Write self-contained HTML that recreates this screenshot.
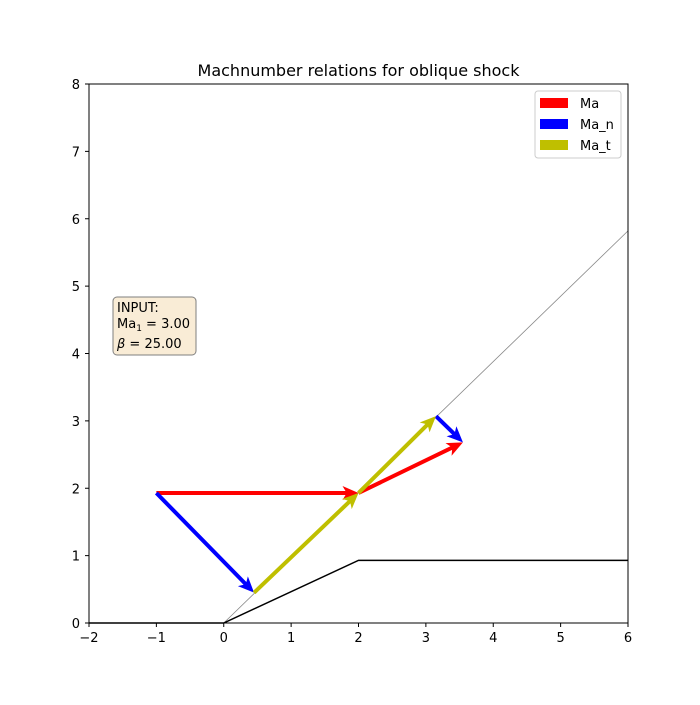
<!DOCTYPE html>
<html><head><meta charset="utf-8"><style>
body{margin:0;background:#fff;font-family:"Liberation Sans","DejaVu Sans",sans-serif}
svg text{font-family:"DejaVu Sans","Liberation Sans",sans-serif}
</style></head><body>
<svg id="c" width="700" height="700">
<rect width="700" height="700" fill="#fff"/>
<text x="358.5" y="76" font-size="16" text-anchor="middle">Machnumber relations for oblique shock</text>
<g id="plot"></g>
<rect x="89" y="84" width="539" height="539" fill="none" stroke="#000" stroke-width="1"/>
<g id="axes"></g>
<g>
<rect x="113" y="297" width="83" height="58" rx="4" fill="#f9ecd6" stroke="#7f7f7f"/>
<text x="117" y="312" font-size="13">INPUT:</text>
<text x="117" y="328" font-size="13">Ma<tspan font-size="9" dy="3">1</tspan><tspan dy="-3"> = 3.00</tspan></text>
<text x="117" y="348" font-size="13"><tspan font-style="italic">β</tspan> = 25.00</text>
</g>
<g>
<rect x="535" y="91" width="86" height="67" rx="3" fill="#fff" stroke="#ccc"/>
<g><rect x="540" y="98" width="28" height="10" fill="#f00"/><text x="580" y="108" font-size="13">Ma</text></g>
<g><rect x="540" y="119" width="28" height="10" fill="#00f"/><text x="580" y="129" font-size="13">Ma_n</text></g>
<g><rect x="540" y="140" width="28" height="10" fill="#bfbf00"/><text x="580" y="150" font-size="13">Ma_t</text></g>
</g>
</svg>
<script>
const xTicks=[-2,-1,0,1,2,3,4,5,6];
const yTicks=[0,1,2,3,4,5,6,7,8];
const wallX=[-2,0,2,6];
const wallY=[0,0,0.93,0.93];
const shockX=[0,6];
const shockY=[0,5.82];
const arrowNames=['ma-1','ma-n-1','ma-t-1','ma-2','ma-n-2','ma-t-2'];
const arrowX0=[-1,-1,0.45,2,3.15,2];
const arrowY0=[1.93,1.93,0.45,1.93,3.07,1.93];
const arrowX1=[2,0.45,2,3.55,3.55,3.15];
const arrowY1=[1.93,0.45,1.93,2.68,2.68,3.07];
const arrowColors=['#f00','#00f','#bfbf00','#f00','#00f','#bfbf00'];
const NS='http://www.w3.org/2000/svg';
const sx=v=>89+(v+2)*539/8, sy=v=>623-v*539/8;
const plot=document.getElementById('plot'), axes=document.getElementById('axes');
function mk(t,a,p){const e=document.createElementNS(NS,t);for(const k in a)e.setAttribute(k,a[k]);p.appendChild(e);return e;}
let sh=mk('polyline',{points:shockX.map((x,i)=>sx(x)+','+sy(shockY[i])).join(' '),fill:'none',stroke:'#888','stroke-width':0.8},plot);


let w=mk('polyline',{points:wallX.map((x,i)=>sx(x)+','+sy(wallY[i])).join(' '),fill:'none',stroke:'#000','stroke-width':1.5},plot);


arrowX0.forEach((x0,i)=>{
  const a=sx(x0),b=sy(arrowY0[i]),c=sx(arrowX1[i]),d=sy(arrowY1[i]);
  const L=Math.hypot(c-a,d-b),ux=(c-a)/L,uy=(d-b)/L,nx=-uy,ny=ux;
  const hw=2,hl=16,hh=7,bk=13;
  const pts=[[a+nx*hw,b+ny*hw],[c-ux*bk+nx*hw,d-uy*bk+ny*hw],[c-ux*hl+nx*hh,d-uy*hl+ny*hh],[c,d],[c-ux*hl-nx*hh,d-uy*hl-ny*hh],[c-ux*bk-nx*hw,d-uy*bk-ny*hw],[a-nx*hw,b-ny*hw]];
  const p=mk('polygon',{points:pts.map(q=>q.join(',')).join(' '),fill:arrowColors[i]},plot);
  
  
});
xTicks.forEach(v=>{const X=sx(v);
  const l=mk('line',{x1:X,x2:X,y1:623,y2:627,stroke:'#000'},axes);
  
  
  const t=mk('text',{x:X,y:642,'font-size':13,'text-anchor':'middle'},axes);t.textContent=v<0?'−'+(-v):v;
  
  });
yTicks.forEach(v=>{const Y=sy(v);
  const l=mk('line',{x1:85,x2:89,y1:Y,y2:Y,stroke:'#000'},axes);
  
  
  const t=mk('text',{x:80,y:Y+5,'font-size':13,'text-anchor':'end'},axes);t.textContent=v;
  
  });
</script>
</body></html>
